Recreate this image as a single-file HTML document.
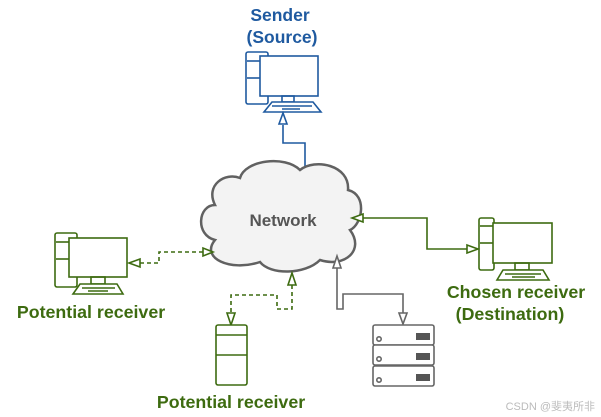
<!DOCTYPE html>
<html><head><meta charset="utf-8"><style>
html,body{margin:0;padding:0;background:#fff;width:601px;height:417px;overflow:hidden}
text{font-family:"Liberation Sans",Arial,sans-serif;font-weight:bold}
</style></head><body>
<svg width="601" height="417" viewBox="0 0 601 417" xmlns="http://www.w3.org/2000/svg">
<!-- Sender -->
<text x="280" y="21" font-size="17.5" fill="#1f5aa0" text-anchor="middle">Sender</text>
<text x="282" y="43" font-size="17.5" fill="#1f5aa0" text-anchor="middle">(Source)</text>
<g fill="none" stroke="#1f5aa0" stroke-width="1.6">
<rect x="246" y="52" width="22" height="52" rx="2" fill="#fff"/>
<line x1="247" y1="61" x2="262" y2="61"/><line x1="247" y1="78" x2="262" y2="78"/>
<rect x="260" y="56" width="58" height="40" fill="#fff"/>
<rect x="282" y="96" width="12" height="6"/>
<path d="M272 102 H313 L321 112 H264 Z" fill="#fff"/>
<line x1="272" y1="106" x2="312" y2="106"/><line x1="282" y1="109" x2="300" y2="109"/>
<path d="M283 125 V143 H305 V172"/>
<path d="M283 113 L279 124 H287 Z" fill="#fff"/>
<path d="M305 182 L301 171 H309 Z" fill="#fff"/>
</g>
<!-- Cloud -->
<path d="M240 178 C245 160 285 155 300 170 C315 158 350 165 348 190 C368 195 362 225 350 230 C365 250 345 268 320 260 C305 275 270 275 260 262 C230 272 200 258 215 240 C195 235 198 205 215 205 C205 185 225 172 240 178 Z" fill="#f3f3f3" stroke="#616161" stroke-width="2.5"/>
<text x="283" y="226" font-size="17" fill="#555" text-anchor="middle">Network</text>
<!-- Left computer -->
<g fill="none" stroke="#3d6b10" stroke-width="1.6">
<rect x="55" y="233" width="22" height="54" rx="2" fill="#fff"/>
<line x1="56" y1="242" x2="71" y2="242"/><line x1="56" y1="259" x2="71" y2="259"/>
<rect x="69" y="238" width="58" height="39" fill="#fff"/>
<rect x="91" y="277" width="14" height="7"/>
<path d="M80 284 H117 L123 294 H73 Z" fill="#fff"/>
<line x1="82" y1="288" x2="115" y2="288"/><line x1="88" y1="291" x2="108" y2="291"/>
<g stroke-dasharray="4,3"><path d="M140 263 H159 V252 H204"/>
<path d="M292 285 V309 H277 V295 H231 V313"/></g>
<path d="M129 263 L140 259 V267 Z" fill="#fff"/>
<path d="M213 252 L203 248 V256 Z" fill="#fff"/>
<path d="M292 273 L288 285 H296 Z" fill="#fff"/>
<path d="M231 325 L227 313 H235 Z" fill="#fff"/>
<!-- bottom tower -->
<rect x="216" y="325" width="31" height="60" rx="2" fill="#fff"/>
<line x1="216" y1="335" x2="247" y2="335"/><line x1="216" y1="355" x2="247" y2="355"/>
<!-- chosen -->
<rect x="479" y="218" width="15" height="52" rx="2" fill="#fff"/>
<line x1="480" y1="226" x2="495" y2="226"/><line x1="480" y1="243" x2="495" y2="243"/>
<rect x="493" y="223" width="59" height="40" fill="#fff"/>
<rect x="515" y="263" width="14" height="7"/>
<path d="M503 270 H543 L549 280 H497 Z" fill="#fff"/>
<line x1="505" y1="274" x2="541" y2="274"/><line x1="512" y1="277" x2="535" y2="277"/>
<path d="M362 218 H427 V249 H467"/>
<path d="M352 218 L363 214 V222 Z" fill="#fff"/>
<path d="M478 249 L467 245 V253 Z" fill="#fff"/>
</g>
<text x="91" y="318" font-size="17.8" fill="#3d6b10" text-anchor="middle">Potential receiver</text>
<text x="231" y="408" font-size="17.8" fill="#3d6b10" text-anchor="middle">Potential receiver</text>
<text x="516" y="298" font-size="17.8" fill="#3d6b10" text-anchor="middle">Chosen receiver</text>
<text x="510" y="320" font-size="17.8" fill="#3d6b10" text-anchor="middle">(Destination)</text>
<!-- server -->
<g fill="none" stroke="#666" stroke-width="1.6">
<path d="M337 268 V309 H343 V294 H403 V313"/>
<path d="M337 256 L333 268 H341 Z" fill="#fff"/>
<path d="M403 324 L399 313 H407 Z" fill="#fff"/>
<rect x="373" y="325" width="61" height="20" rx="2" fill="#fff"/>
<rect x="373" y="345" width="61" height="20" rx="2" fill="#fff"/>
<rect x="373" y="366" width="61" height="20" rx="2" fill="#fff"/>
<circle cx="379" cy="339" r="2.2"/><circle cx="379" cy="359" r="2.2"/><circle cx="379" cy="380" r="2.2"/>
</g>
<g fill="#555"><rect x="416" y="333" width="14" height="7"/><rect x="416" y="353" width="14" height="7"/><rect x="416" y="374" width="14" height="7"/></g>
<text x="595" y="410" font-size="11" fill="#bbb" text-anchor="end" style="font-weight:normal;font-family:'Liberation Sans','Noto Sans CJK SC',sans-serif">CSDN @斐夷所非</text>
</svg>
</body></html>
